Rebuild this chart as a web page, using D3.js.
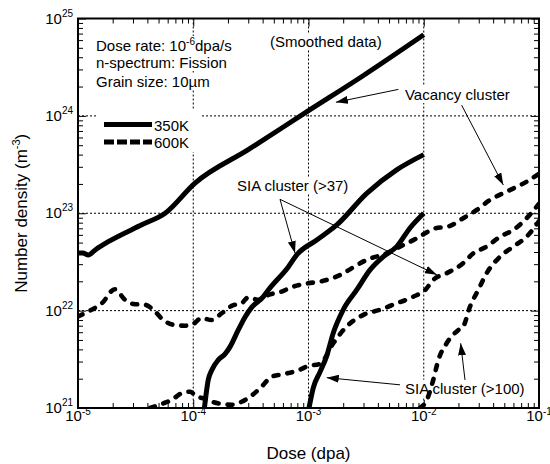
<!DOCTYPE html>
<html>
<head>
<meta charset="utf-8">
<script src="https://cdn.jsdelivr.net/npm/d3@7"></script>
<style>
  body { margin: 0; background: #fff; }
  text { font-family: "Liberation Sans", Arial, Helvetica, sans-serif; fill: #000; }
</style>
</head>
<body>
<svg id="chart" width="550" height="464"></svg>
<script>
// ---- axis ticks ----
const xMajor = [1e-5, 1e-4, 1e-3, 1e-2, 1e-1];
const xExponents = ["-5", "-4", "-3", "-2", "-1"];
const yMajor = [1e21, 1e22, 1e23, 1e24, 1e25];
const yExponents = ["21", "22", "23", "24", "25"];

// ---- series: [dose (dpa), number density (m^-3)] ----
const vacancy350 = [[1e-5,3.9e22],[1.1e-5,3.9e22],[1.23e-5,3.73e22],[1.41e-5,4.2e22],[1.83e-5,5.1e22],
  [3.57e-5,7.6e22],[5.7e-5,1e23],[1.03e-4,2.03e23],[3e-4,4.5e23],[1e-3,1.13e24],[3e-3,2.6e24],[1e-2,6.8e24]];

const vacancy600 = [[1e-5,8.7e21],[1.31e-5,1.02e22],[1.61e-5,1.19e22],[2.09e-5,1.66e22],[2.56e-5,1.29e22],
  [3.02e-5,1.17e22],[3.81e-5,1.15e22],[4.5e-5,1.02e22],[5.5e-5,8.0e21],[6.95e-5,7.1e21],[8.48e-5,7.0e21],
  [1e-4,7.3e21],[1.18e-4,8.4e21],[1.44e-4,8.0e21],[1.77e-4,9.4e21],[2.16e-4,1.12e22],[2.63e-4,1.19e22],
  [3.0e-4,1.37e22],[3.67e-4,1.29e22],[4.48e-4,1.45e22],[5.85e-4,1.57e22],[7.14e-4,1.74e22],[1e-3,1.91e22],
  [1.26e-3,1.99e22],[1.88e-3,2.32e22],[2.45e-3,2.79e22],[3.2e-3,3.32e22],[4.77e-3,3.88e22],[6.22e-3,4.54e22],
  [8.69e-3,5.53e22],[1.03e-2,6.24e22],[1.21e-2,6.9e22],[1.69e-2,7.41e22],[2.2e-2,8.9e22],[2.88e-2,1.08e23],
  [3.76e-2,1.37e23],[5.25e-2,1.67e23],[7.82e-2,2.11e23],[1e-1,2.55e23]];

const sia37At350 = [[1.25e-4,1e21],[1.35e-4,1.95e21],[1.45e-4,2.46e21],[1.65e-4,3.12e21],[1.89e-4,3.59e21],
  [2.09e-4,4.27e21],[2.46e-4,6.34e21],[2.81e-4,8.56e21],[3.21e-4,1.08e22],[4.06e-4,1.39e22],[4.48e-4,1.63e22],
  [6.68e-4,2.81e22],[7.9e-4,3.73e22],[1.18e-3,5.32e22],[1.76e-3,7.59e22],[3.2e-3,1.6e23],[5.82e-3,2.79e23],
  [1e-2,4.0e23]];

const sia37At600 = [[4.22e-5,1e21],[5.32e-5,1.1e21],[6.5e-5,1.21e21],[7.94e-5,1.42e21],[9.38e-5,1.47e21],
  [1.07e-4,1.31e21],[1.22e-4,1.26e21],[1.45e-4,1.16e21],[1.77e-4,1.1e21],[2.16e-4,1.08e21],[2.63e-4,1.16e21],
  [3.21e-4,1.34e21],[3.93e-4,1.66e21],[4.8e-4,2.1e21],[6.25e-4,2.24e21],[8.1e-4,2.43e21],[1e-3,2.7e21],
  [1.26e-3,2.84e21],[1.64e-3,4.62e21],[2.14e-3,6.86e21],[2.99e-3,9.04e21],[4.17e-3,1.02e22],[5.62e-3,1.17e22],
  [8.11e-3,1.39e22],[1.03e-2,1.63e22],[1.21e-2,2.07e22],[1.58e-2,2.42e22],[2.2e-2,3.07e22],[2.69e-2,3.88e22],
  [3.51e-2,4.54e22],[4.59e-2,5.75e22],[5.98e-2,6.74e22],[7.82e-2,8.9e22],[1e-1,1.25e23]];

const sia100At350 = [[1.01e-3,1e21],[1.1e-3,1.61e21],[1.26e-3,2.35e21],[1.44e-3,3.43e21],[1.64e-3,5.9e21],
  [2.0e-3,1.02e22],[2.62e-3,1.63e22],[3.42e-3,2.62e22],[4.46e-3,3.58e22],[5.82e-3,4.54e22],[7.6e-3,7.06e22],
  [1e-2,1e23]];

const sia100At600 = [[9.27e-3,1e21],[1.06e-2,1.2e21],[1.21e-2,1.95e21],[1.34e-2,3.12e21],[1.58e-2,4.62e21],
  [2.0e-2,6.34e21],[2.2e-2,6.86e21],[2.52e-2,1.1e22],[2.97e-2,1.63e22],[3.51e-2,2.42e22],[4.59e-2,3.58e22],
  [5.98e-2,4.54e22],[7.82e-2,5.75e22],[1e-1,8.3e22]];

const series = [
  { data: vacancy350,   dashed: false },
  { data: vacancy600,   dashed: true  },
  { data: sia37At350,   dashed: false },
  { data: sia37At600,   dashed: true  },
  { data: sia100At350,  dashed: false },
  { data: sia100At600,  dashed: true  }
];

// ---- layout ----
const W = 550, H = 464;
const plot = { left: 78, right: 539, top: 18.5, bottom: 408 };

const svg = d3.select("#chart");
const x = d3.scaleLog().domain([1e-5, 1e-1]).range([plot.left, plot.right]);
const y = d3.scaleLog().domain([1e21, 1e25]).range([plot.bottom, plot.top]);

// minor tick values (2..9 per decade)
function minorTicks(lo, hi) {
  const out = [];
  for (let e = Math.log10(lo); e < Math.log10(hi); e++) {
    for (let m = 2; m <= 9; m++) out.push(m * Math.pow(10, e));
  }
  return out;
}
const xMinor = minorTicks(1e-5, 1e-1);
const yMinor = minorTicks(1e21, 1e25);

svg.append("defs").append("clipPath").attr("id", "plotClip")
  .append("rect").attr("x", plot.left).attr("y", plot.top)
  .attr("width", plot.right - plot.left).attr("height", plot.bottom - plot.top);

svg.select("defs").append("marker")
  .attr("id", "arrowHead").attr("markerUnits", "userSpaceOnUse")
  .attr("viewBox", "0 0 12 8").attr("refX", 12).attr("refY", 4)
  .attr("markerWidth", 12).attr("markerHeight", 8).attr("orient", "auto")
  .append("path").attr("d", "M0,0 L12,4 L0,8 Z").attr("fill", "#000");

// ---- dotted grid at inner decades ----
const grid = svg.append("g").attr("stroke", "#000").attr("stroke-width", 1).attr("stroke-dasharray", "2,2");
grid.selectAll("line.gx").data(xMajor.slice(1, -1)).join("line")
  .attr("x1", d => x(d)).attr("x2", d => x(d)).attr("y1", plot.top).attr("y2", plot.bottom);
grid.selectAll("line.gy").data(yMajor.slice(1, -1)).join("line")
  .attr("y1", d => y(d)).attr("y2", d => y(d)).attr("x1", plot.left).attr("x2", plot.right);

// ---- ticks on all four sides, pointing inward ----
function tickAxis(axisGen, transform) {
  const g = svg.append("g").attr("transform", transform).call(axisGen);
  g.select(".domain").remove();
  g.selectAll(".tick line").attr("stroke", "#000").attr("stroke-width", 1);
  g.selectAll(".tick text").remove();
}
const xAll = xMinor, yAll = yMinor;
tickAxis(d3.axisBottom(x).tickValues(xAll).tickSize(-5).tickFormat(""), `translate(0,${plot.bottom})`);
tickAxis(d3.axisTop(x).tickValues(xAll).tickSize(-5).tickFormat(""), `translate(0,${plot.top})`);
tickAxis(d3.axisLeft(y).tickValues(yAll).tickSize(-5).tickFormat(""), `translate(${plot.left},0)`);
tickAxis(d3.axisRight(y).tickValues(yAll).tickSize(-5).tickFormat(""), `translate(${plot.right},0)`);
tickAxis(d3.axisBottom(x).tickValues(xMajor).tickSize(-8).tickFormat(""), `translate(0,${plot.bottom})`);
tickAxis(d3.axisTop(x).tickValues(xMajor).tickSize(-8).tickFormat(""), `translate(0,${plot.top})`);
tickAxis(d3.axisLeft(y).tickValues(yMajor).tickSize(-8).tickFormat(""), `translate(${plot.left},0)`);
tickAxis(d3.axisRight(y).tickValues(yMajor).tickSize(-8).tickFormat(""), `translate(${plot.right},0)`);

// ---- text helper with white backing ----
const annot = svg.append("g");
function backedText(parent, build, pad) {
  const g = parent.append("g");
  const bg = g.append("rect").attr("fill", "#fff");
  const t = g.append("text");
  build(t);
  const b = t.node().getBBox();
  bg.attr("x", b.x - pad).attr("y", b.y - pad + 1).attr("width", b.width + 2 * pad).attr("height", b.height + 2 * pad - 2);
  return t;
}

// info block
const infoFont = 15;
backedText(annot, t => {
  t.attr("x", 96).attr("y", 51).attr("font-size", infoFont);
  t.append("tspan").text("Dose rate: 10");
  t.append("tspan").attr("dy", -6).attr("font-size", 10).text("-6");
  t.append("tspan").attr("dy", 6).text("dpa/s");
}, 1);
backedText(annot, t => t.attr("x", 96).attr("y", 68).attr("font-size", infoFont).text("n-spectrum: Fission"), 1);
backedText(annot, t => t.attr("x", 96).attr("y", 87).attr("font-size", infoFont).text("Grain size: 10\u00b5m"), 1);

// legend
const legend = svg.append("g");
legend.append("rect").attr("x", 97).attr("y", 109).attr("width", 103).attr("height", 43).attr("fill", "#fff");
legend.append("line").attr("x1", 104).attr("x2", 152).attr("y1", 124.5).attr("y2", 124.5)
  .attr("stroke", "#000").attr("stroke-width", 5);
legend.append("line").attr("x1", 104).attr("x2", 152).attr("y1", 142).attr("y2", 142)
  .attr("stroke", "#000").attr("stroke-width", 5).attr("stroke-dasharray", "10,3");
legend.append("text").attr("x", 154).attr("y", 131).attr("font-size", infoFont).text("350K");
legend.append("text").attr("x", 154).attr("y", 148).attr("font-size", infoFont).text("600K");

// annotation labels (placed in data coordinates)
const labels = [
  { text: "(Smoothed data)",    at: [4.63e-4, 5.1e24] },
  { text: "Vacancy cluster",    at: [6.87e-3, 1.46e24] },
  { text: "SIA cluster (>37)",  at: [2.4e-4, 1.69e23] },
  { text: "SIA cluster (>100)", at: [6.87e-3, 1.4e21] }
];
labels.forEach(l => backedText(annot, t => t.attr("x", x(l.at[0])).attr("y", y(l.at[1]))
  .attr("font-size", 15).text(l.text), 1));

// ---- curves ----
const line = d3.line().x(d => x(d[0])).y(d => y(d[1])).curve(d3.curveMonotoneX);
const curves = svg.append("g").attr("clip-path", "url(#plotClip)");
series.forEach(s => {
  curves.append("path").attr("d", line(s.data)).attr("fill", "none").attr("stroke", "#000")
    .attr("stroke-width", s.dashed ? 4.6 : 5)
    .attr("stroke-linecap", s.dashed ? "round" : "butt")
    .attr("stroke-linejoin", "round")
    .attr("stroke-dasharray", s.dashed ? "5,9" : null);
});

// ---- annotation arrows: [tail, tip] in data coordinates ----
const arrows = [
  [[6.02e-3, 1.87e24], [1.73e-3, 1.38e24]],
  [[2.13e-2, 1.29e24], [4.9e-2, 1.95e23]],
  [[5.66e-4, 1.39e23], [7.64e-4, 3.9e22]],
  [[5.66e-4, 1.39e23], [1.30e-2, 2.33e22]],
  [[6.22e-3, 1.73e21], [1.44e-3, 2.05e21]],
  [[2.28e-2, 1.94e21], [2.09e-2, 4.62e21]]
];
svg.append("g").selectAll("line").data(arrows).join("line")
  .attr("x1", d => x(d[0][0])).attr("y1", d => y(d[0][1]))
  .attr("x2", d => x(d[1][0])).attr("y2", d => y(d[1][1]))
  .attr("stroke", "#000").attr("stroke-width", 1).attr("marker-end", "url(#arrowHead)");

// ---- frame ----
svg.append("rect").attr("x", plot.left).attr("y", plot.top)
  .attr("width", plot.right - plot.left).attr("height", plot.bottom - plot.top)
  .attr("fill", "none").attr("stroke", "#000").attr("stroke-width", 2);

// ---- tick labels ----
const tickFont = 15, supFont = 10;
xMajor.forEach((t, i) => {
  const tx = svg.append("text").attr("x", x(t)).attr("y", plot.bottom + 13).attr("text-anchor", "middle")
    .attr("font-size", tickFont);
  tx.append("tspan").text("10");
  tx.append("tspan").attr("dy", -6).attr("font-size", supFont).text(xExponents[i]);
});
yMajor.forEach((t, i) => {
  const ty = svg.append("text").attr("x", plot.left - 5).attr("y", y(t) + 5).attr("text-anchor", "end")
    .attr("font-size", tickFont);
  ty.append("tspan").text("10");
  ty.append("tspan").attr("dy", -7).attr("font-size", supFont).text(yExponents[i]);
});

// ---- axis titles ----
svg.append("text").attr("x", (plot.left + plot.right) / 2).attr("y", 459)
  .attr("text-anchor", "middle").attr("font-size", 17).text("Dose (dpa)");
const yt = svg.append("text").attr("transform", `translate(27,${(plot.top + plot.bottom) / 2}) rotate(-90)`)
  .attr("text-anchor", "middle").attr("font-size", 17);
yt.append("tspan").text("Number density (m");
yt.append("tspan").attr("dy", -7).attr("font-size", 11).text("-3");
yt.append("tspan").attr("dy", 7).text(")");
</script>
</body>
</html>
